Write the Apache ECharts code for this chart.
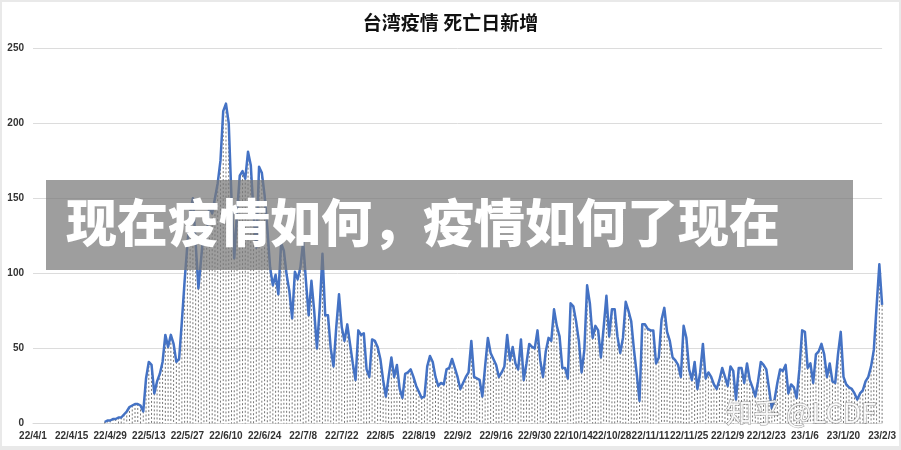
<!DOCTYPE html>
<html><head><meta charset="utf-8">
<script src="https://cdn.jsdelivr.net/npm/echarts@6/dist/echarts.min.js"></script>
<style>
html,body{margin:0;padding:0;background:#fff;}
#wrap{position:relative;width:901px;height:450px;background:#e9e9e9;}
#chart{position:absolute;left:2px;top:2px;width:897px;height:444px;background:#fff;}
</style></head><body>
<div id="wrap"><div id="chart"></div></div>
<script>
const titleText = '台湾疫情 死亡日新增';
const bannerText = '现在疫情如何，疫情如何了现在';
const watermarkText = '知乎 @LCDF';
const startYear = 2022, startMonth = 4, startDay = 1;
const dayCount = 309;
const yMin = 0, yMax = 250, yStep = 50;

// daily deaths, 22/4/1 .. 23/2/3 (null = no data)
const leadNulls = 26;
const aprMay = [1,2,2,3,3,4,4,6,8,11,12,13,13,12,8,30,41,39,20,28,33,41,59,51,59,53,41,43,68,95,119];
const mayJun = [140,150,120,90,110,130,125,145,140,150,160,175,208,213,200,150];
const junJul = [110,140,165,168,163,181,172,140,117,171,167,152,130,104,92,99,86,120,115,99,88,70,101,96,104,121,95,72,95,75,50,77,113,72,72,50,38,64,86,64,55,66,53,40,29,62,59];
const julOct = [60,36,31,56,55,51,43,29,18,31,44,31,39,23,17,33,34,36,31,25,21,17,18,38,45,41,31,25,27,26,36,37,43,37,31,23,27,31,34,55,31,30,29,18,38,57,47,43,39,31,34,38,59,42,51,40,36,56,29,40,53,51,50,62,42,31];
const octDec = [48,57,55,76,65,58,37,37,30,80,78,68,55,34,49,92,80,57,65,62,44,64,85,58,76,76,58,47,57,81,75,68,49,33,15,66,66,63,62,62,40,44,69,77,61,55,44,42,39,31,65,57,36,29,41,23,34,53,30,34,31,26,23];
const decFeb = [29,37,31,25,38,35,16,37,37,27,40,29,24,18,28,41,39,36,23,10,16,27,36,35,39,20,26,24,17,36,62,61,37,40,27,46,48,53,46,31,40,28,27,46,61,31,26,24,23,20,16,20,22,28,31,38,49,78,106,79];

const deaths = new Array(leadNulls).fill(null).concat(aprMay, mayJun, junJul, julOct, octDec, decFeb);

const categories = [];
for (let i = 0; i < dayCount; i++) {
  const d = new Date(Date.UTC(startYear, startMonth - 1, startDay + i));
  categories.push((d.getUTCFullYear() % 100) + '/' + (d.getUTCMonth() + 1) + '/' + d.getUTCDate());
}

const chart = echarts.init(document.getElementById('chart'));
const axisFont = {fontFamily: 'Liberation Sans', fontWeight: 'bold', fontSize: 10, color: '#333'};

chart.setOption({
  animation: false,
  backgroundColor: '#fff',
  title: {
    text: titleText, left: 'center', top: 6,
    textStyle: {fontFamily: 'Noto Sans CJK SC', fontSize: 19, fontWeight: 'bold', color: '#111'}
  },
  grid: {left: 31, right: 14, top: 46, bottom: 22.5, containLabel: false},
  xAxis: {
    type: 'category', data: categories, boundaryGap: false,
    axisLine: {lineStyle: {color: '#d9d9d9', width: 1}},
    axisTick: {show: false},
    axisLabel: Object.assign({interval: 13, margin: 8}, axisFont),
    splitLine: {show: false}
  },
  yAxis: {
    type: 'value', min: yMin, max: yMax, interval: yStep,
    axisLine: {show: false}, axisTick: {show: false},
    axisLabel: Object.assign({margin: 9}, axisFont),
    splitLine: {lineStyle: {color: '#dcdcdc', width: 1}}
  },
  series: [
    {
      type: 'custom', z: 1, silent: true,
      renderItem: function (params, api) {
        const idx = api.value(0), v = api.value(1);
        const top = api.coord([idx, v]);
        const bot = api.coord([idx, 0]);
        return {type: 'line', shape: {x1: top[0], y1: top[1], x2: bot[0], y2: bot[1]},
          style: {stroke: '#777', lineWidth: 1, lineDash: [2, 2]}};
      },
      encode: {x: 0, y: 1},
      data: deaths.map((v, i) => [i, v]).filter(p => p[1] !== null)
    },
    {
      type: 'line', z: 3, data: deaths, showSymbol: false, connectNulls: false,
      lineStyle: {color: '#4472C4', width: 2.5, join: 'round'}, itemStyle: {color: '#4472C4'}
    }
  ],
  graphic: [
    {type: 'rect', z: 100, shape: {x: 44, y: 178, width: 807, height: 90},
      style: {fill: 'rgba(120,120,120,0.72)'}},
    {type: 'text', z: 101, x: 64, y: 221,
      style: {text: bannerText, fill: '#fff', fontFamily: 'Noto Sans CJK SC', fontWeight: 900,
        fontSize: 51, verticalAlign: 'middle', align: 'left'}},
    {type: 'text', z: 101, x: 724, y: 411,
      style: {text: watermarkText, fill: 'rgba(255,255,255,0.85)', stroke: 'rgba(100,100,100,0.65)', lineWidth: 1,
        fontFamily: 'Noto Sans CJK SC', fontSize: 27, verticalAlign: 'middle', align: 'left'}}
  ]
});
</script>
</body></html>
